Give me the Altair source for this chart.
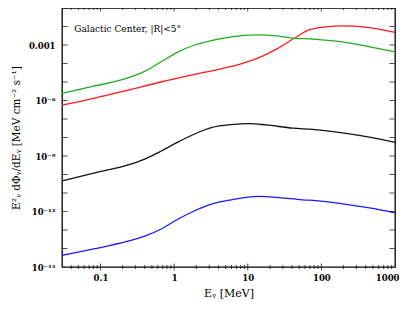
import altair as alt
import pandas as pd

# ---- data ----
energy_green = [0.03, 0.081, 0.23, 0.39, 0.66, 1.12, 1.9, 3.2, 6.0, 13, 25, 43, 78, 160, 420, 1000]
flux_green = [2.4e-6, 5.9e-6, 1.6e-5, 3.6e-5, 1.2e-4, 4.1e-4, 1.0e-3, 1.7e-3, 2.75e-3, 3.5e-3,
              3.1e-3, 2.3e-3, 2.1e-3, 1.6e-3, 8.5e-4, 4.3e-4]

energy_red = [0.03, 0.081, 0.23, 0.66, 1.9, 6.0, 13, 25, 43, 68, 115, 195, 420, 1000]
flux_red = [5.6e-7, 1.3e-6, 3.5e-6, 1.0e-5, 2.6e-5, 6.9e-5, 1.8e-4, 6.2e-4, 2.3e-3, 6.5e-3,
            9.5e-3, 1.07e-2, 8.9e-3, 4.8e-3]

energy_black = [0.03, 0.081, 0.23, 0.39, 0.66, 1.12, 1.9, 3.2, 6.0, 10.5, 17.6, 41, 76, 195, 450, 1000]
flux_black = [4.5e-11, 1.2e-10, 3.2e-10, 6.6e-10, 1.8e-9, 5.6e-9, 1.55e-8, 3.4e-8, 5.0e-8, 5.6e-8,
              4.8e-8, 3.2e-8, 2.75e-8, 1.8e-8, 1.05e-8, 5.5e-9]

energy_blue = [0.03, 0.081, 0.23, 0.39, 0.66, 1.12, 1.9, 3.2, 6.0, 14, 27, 55, 85, 195, 450, 1000]
flux_blue = [4.3e-15, 9.5e-15, 2.4e-14, 4.5e-14, 1.1e-13, 3.8e-13, 1.1e-12, 2.5e-12, 4.3e-12, 6.5e-12,
             5.6e-12, 4.3e-12, 3.9e-12, 2.6e-12, 1.55e-12, 8.5e-13]

x_major = [0.1, 1, 10, 100, 1000]
x_minor = [m * d for d in [0.01, 0.1, 1, 10, 100] for m in range(2, 10) if 0.031 <= m * d <= 999]
y_ticks = [10.0 ** e for e in range(-14, 0)]
y_label_exps = [-15, -12, -9, -6, -3]
y_label_text = ["10⁻¹⁵", "10⁻¹²", "10⁻⁹", "10⁻⁶", "0.001"]

note_x = [0.044]
note_y = [7.2e-3]
note_text = ["Galactic Center, |R|<5°"]

W, H = 333, 259
FONT = "DejaVu Serif"

def frame(e, f, name):
    return pd.DataFrame({"E": e, "F": f, "series": name})

df_green = frame(energy_green, flux_green, "green")
df_red = frame(energy_red, flux_red, "red")
df_black = frame(energy_black, flux_black, "black")
df_blue = frame(energy_blue, flux_blue, "blue")
df_note = pd.DataFrame({"E": note_x, "F": note_y, "text": note_text})
df_xmaj = pd.DataFrame({"E": x_major[:-1]})
df_xmin = pd.DataFrame({"E": x_minor})
df_yt = pd.DataFrame({"F": y_ticks})

xscale = alt.Scale(type="log", domain=[0.03, 1000], nice=False)
yscale = alt.Scale(type="log", domain=[1e-15, 0.1], nice=False)

label_expr = " : ".join(
    f"round(log(datum.value)/LN10) == {e} ? '{t}'" for e, t in zip(y_label_exps, y_label_text)
) + " : ''"

lab = dict(labelFont=FONT, labelFontSize=8.5, labelFontWeight="bold", labelColor="black")

ax_x = alt.Axis(values=x_major, format="~g", tickSize=0, domain=False, grid=False,
                labelPadding=6, labelFlush=True, labelFlushOffset=4,
                title="Eᵧ [MeV]", titleFont=FONT, titleFontSize=11,
                titleFontWeight="normal", titlePadding=6, titleColor="black", **lab)
ax_y = alt.Axis(values=[10.0 ** e for e in y_label_exps], labelExpr=label_expr, tickSize=0,
                domain=False, grid=False, labelPadding=7,
                title="E²ᵧ dΦᵧ/dEᵧ  [MeV cm⁻² s⁻¹]", titleFont=FONT, titleFontSize=10.5,
                titleFontWeight="normal", titlePadding=7, titleColor="black", **lab)

X = alt.X("E:Q", scale=xscale, axis=ax_x)
Y = alt.Y("F:Q", scale=yscale, axis=ax_y)


def line(df, color):
    return alt.Chart(df).mark_line(color=color, strokeWidth=1.3, interpolate="monotone").encode(
        x=X, y=Y, order="E:Q",
    )

layers = [line(df_red, "#ff1a1a"), line(df_green, "#1fae1f"),
          line(df_black, "#111111"), line(df_blue, "#1a1aff")]

# ticks along the frame edges (short tick marks at the tick values)
TC = "#000000"
for df, size in [(df_xmaj, 7), (df_xmin, 4)]:
    layers.append(alt.Chart(df).mark_tick(color=TC, thickness=1, size=size, orient="vertical").encode(
        x=X, y=alt.value(H)))
    layers.append(alt.Chart(df).mark_tick(color=TC, thickness=1, size=size, orient="vertical").encode(
        x=X, y=alt.value(0)))
layers.append(alt.Chart(df_yt).mark_tick(color=TC, thickness=1, size=5, orient="horizontal").encode(
    y=Y, x=alt.value(3)))
layers.append(alt.Chart(df_yt).mark_tick(color=TC, thickness=1, size=5, orient="horizontal").encode(
    y=Y, x=alt.value(W - 3)))

layers.append(alt.Chart(df_note).mark_text(align="left", baseline="middle", font=FONT, fontSize=9,
                                           color="black").encode(x=X, y=Y, text="text:N"))

chart = (
    alt.layer(*layers)
    .properties(width=W, height=H, autosize=alt.AutoSizeParams(type="none"),
                padding={"left": 54, "top": 0, "right": 4, "bottom": 38})
    .configure_view(stroke="black", strokeWidth=1.3)
    .configure_axis(grid=False)
)

chart.save("out.html", embed_options={"renderer": "svg", "actions": False})
